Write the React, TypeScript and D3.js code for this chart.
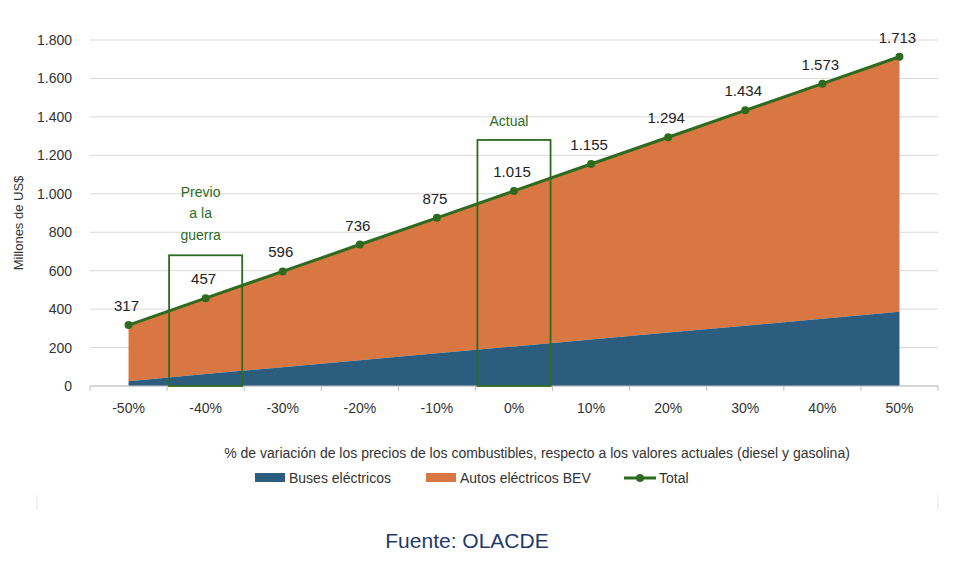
import * as d3 from 'd3';

const categories = ['-50%', '-40%', '-30%', '-20%', '-10%', '0%', '10%', '20%', '30%', '40%', '50%'];
const totalValues = [317, 457, 596, 736, 875, 1015, 1155, 1294, 1434, 1573, 1713];
const busValues = [25, 62, 98, 134, 170, 206, 242, 278, 314, 350, 386];
const totalLabels = ['317', '457', '596', '736', '875', '1.015', '1.155', '1.294', '1.434', '1.573', '1.713'];
const yTicks = [0, 200, 400, 600, 800, 1000, 1200, 1400, 1600, 1800];

const W = 980, H = 562;
const left = 90, right = 938, top = 40, bottom = 386;
const font = '"Liberation Sans", Arial, sans-serif';
const green = '#2e6b1f';

export default function App() {
  const band = d3.scaleBand<string>().domain(categories).range([left, right]);
  const x = (i: number) => (band(categories[i]) as number) + band.bandwidth() / 2;
  const y = d3.scaleLinear().domain([0, 1800]).range([bottom, top]);
  const fmt = (v: number) => (v >= 1000 ? d3.format(',')(v).replace(',', '.') : String(v));

  const idx = categories.map((_, i) => i);
  const totalArea = d3.area<number>().x(i => x(i)).y0(i => y(busValues[i])).y1(i => y(totalValues[i]));
  const busArea = d3.area<number>().x(i => x(i)).y0(y(0)).y1(i => y(busValues[i]));
  const line = d3.line<number>().x(i => x(i)).y(i => y(totalValues[i]));
  const bw = band.bandwidth();

  const box = (i: number, topVal: number) => (
    <rect x={x(i) - bw / 2 + 2} y={y(topVal)} width={bw - 4} height={y(0) - y(topVal)}
      fill="none" stroke={green} strokeWidth={1.8} />
  );

  return (
    <svg width={W} height={H} style={{ position: 'absolute', left: 0, top: 0, background: '#fff' }} fontFamily={font}>
      {yTicks.map(t => (
        <g key={t}>
          <line x1={left} x2={right} y1={y(t)} y2={y(t)} stroke="#d9d9d9" />
          <text x={72} y={y(t) + 5} textAnchor="end" fontSize={14} fill="#333">{fmt(t)}</text>
        </g>
      ))}
      <path d={totalArea(idx) as string} fill="#d97742" />
      <path d={busArea(idx) as string} fill="#2d5d7e" />
      <line x1={left} x2={right} y1={bottom} y2={bottom} stroke="#bfbfbf" />
      {d3.range(categories.length + 1).map(i => (
        <line key={i} x1={left + i * bw} x2={left + i * bw} y1={bottom} y2={bottom + 5} stroke="#bfbfbf" />
      ))}
      {categories.map((c, i) => (
        <text key={c} x={x(i)} y={413} textAnchor="middle" fontSize={14} fill="#333">{c}</text>
      ))}
      {box(1, 680)}
      {box(5, 1280)}
      <g fill={green} fontSize={14} textAnchor="middle">
        <text x={x(1) - 5} y={197}>Previo</text>
        <text x={x(1) - 5} y={218}>a la</text>
        <text x={x(1) - 5} y={240}>guerra</text>
        <text x={x(5) - 5} y={126}>Actual</text>
      </g>
      <path d={line(idx) as string} fill="none" stroke={green} strokeWidth={3} />
      {idx.map(i => (
        <g key={i}>
          <circle cx={x(i)} cy={y(totalValues[i])} r={4} fill={green} />
          <text x={x(i) - 2} y={y(totalValues[i]) - 14} textAnchor="middle" fontSize={15} fill="#222">{totalLabels[i]}</text>
        </g>
      ))}
      <text transform={`translate(23,${(top + bottom) / 2 + 10}) rotate(-90)`} textAnchor="middle" fontSize={13} fill="#333">Millones de US$</text>
      <text x={537} y={458} textAnchor="middle" fontSize={14} fill="#333">% de variación de  los precios de los combustibles, respecto a los valores actuales (diesel y gasolina)</text>
      <g fontSize={14} fill="#333">
        <rect x={255} y={473} width={30} height={9} fill="#2d5d7e" />
        <text x={289} y={483}>Buses eléctricos</text>
        <rect x={426} y={473} width={30} height={9} fill="#d97742" />
        <text x={460} y={483}>Autos eléctricos BEV</text>
        <line x1={624} x2={656} y1={478} y2={478} stroke={green} strokeWidth={3} />
        <circle cx={640} cy={478} r={4} fill={green} />
        <text x={659} y={483}>Total</text>
      </g>
      <line x1={37} x2={37} y1={495} y2={510} stroke="#e6e6e6" />
      <line x1={938} x2={938} y1={495} y2={510} stroke="#e6e6e6" />
      <text x={467} y={548} textAnchor="middle" fontSize={21} fill="#1f3a6b">Fuente: OLACDE</text>
    </svg>
  );
}
